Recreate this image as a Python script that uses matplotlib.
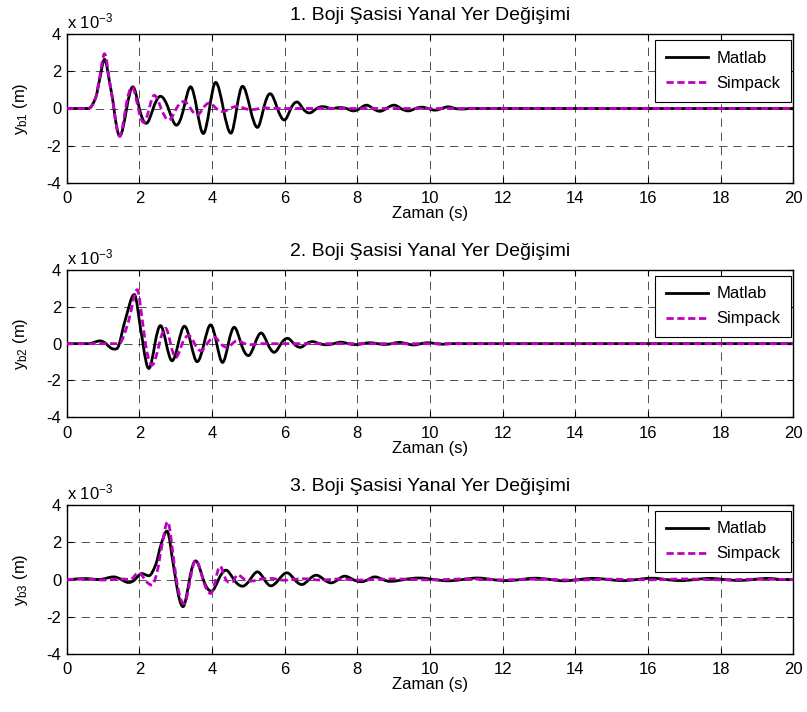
import numpy as np
import matplotlib
matplotlib.use('Agg')
import matplotlib.pyplot as plt
from matplotlib.path import Path
from matplotlib.patches import PathPatch
from matplotlib.lines import Line2D

plt.rcParams['font.family'] = ['Liberation Sans', 'DejaVu Sans']
plt.rcParams['mathtext.fontset'] = 'custom'
plt.rcParams['mathtext.rm'] = 'Liberation Sans'
plt.rcParams['mathtext.it'] = 'Liberation Sans'

# values: peaks, troughs and zero crossings
# (time in s, displacement in 1e-3 m)
t1_matlab = [0, 0.6, 0.8, 0.9, 1.04, 1.2, 1.3, 1.46, 1.65, 1.82, 2.0, 2.19, 2.38, 2.58, 2.8,
             3.02, 3.22, 3.41, 3.58, 3.76, 3.93, 4.10, 4.31, 4.52, 4.68, 4.84, 5.05, 5.25,
             5.42, 5.60, 5.8, 5.99, 6.17, 6.34, 6.5, 6.68, 6.88, 7.05, 7.3, 7.5, 7.7, 7.89,
             8.07, 8.25, 8.43, 8.62, 8.8, 9.01, 9.2, 9.40, 9.6, 9.77, 9.95, 10.14, 10.32,
             10.5, 10.7, 10.9, 11.1, 20]
y1_matlab = [0, 0, 0.6, 1.5, 2.65, 1.2, 0, -1.48, 0, 1.17, 0, -0.8, 0, 0.66, 0,
             -0.9, 0, 1.17, 0, -1.35, 0, 1.41, 0, -1.33, 0, 1.2, 0, -1.02,
             0, 0.8, 0, -0.62, 0, 0.35, 0, -0.24, 0, 0.1, 0.0, 0.05, 0, -0.13,
             0, 0.18, 0, -0.15, 0, 0.18, 0, -0.13, 0, 0.07, 0, -0.09, 0,
             0.09, 0, -0.03, 0, 0]

t1_simpack = [0, 0.6, 0.8, 0.9, 1.04, 1.2, 1.3, 1.46, 1.62, 1.80, 1.97, 2.12, 2.27, 2.41,
              2.6, 2.81, 3.02, 3.23, 3.41, 3.59, 3.75, 3.92, 4.12, 4.30, 4.50, 4.70, 4.9,
              5.1, 5.3, 5.5, 5.8, 20]
y1_simpack = [0, 0, 0.6, 1.6, 2.95, 1.2, 0, -1.5, 0, 1.15, 0, -0.75, 0, 0.71,
              0, -0.62, 0, 0.38, 0, -0.35, 0, 0.29, 0, -0.16, 0, 0.12, 0,
              -0.06, 0, 0.03, 0, 0]

t2_matlab = [0, 0.6, 0.92, 1.08, 1.29, 1.45, 1.6, 1.86, 2.05, 2.1, 2.26, 2.43, 2.58, 2.74,
             2.9, 3.07, 3.24, 3.42, 3.59, 3.78, 3.96, 4.13, 4.29, 4.45, 4.61, 4.8, 5.0,
             5.18, 5.35, 5.53, 5.71, 5.9, 6.08, 6.25, 6.43, 6.6, 6.77, 6.95, 7.15, 7.35,
             7.55, 7.75, 7.95, 8.15, 8.35, 8.55, 8.75, 8.95, 9.15, 9.35, 9.55, 9.75, 9.95,
             10.15, 10.35, 10.6, 20]
y2_matlab = [0, 0, 0.15, 0, -0.29, 0, 1.2, 2.67, 0.6, 0, -1.35, 0, 0.98, 0,
             -0.93, 0, 0.95, 0, -0.98, 0, 1.02, 0, -1.02, 0, 0.89, 0, -0.65,
             0, 0.58, 0, -0.47, 0, 0.29, 0, -0.2, 0, 0.11, 0, -0.06, 0,
             0.08, 0, -0.05, 0, 0.05, 0, -0.04, 0, 0.07, 0, -0.07, 0, 0.05,
             0, -0.03, 0, 0]

t2_simpack = [0, 1.4, 1.5, 1.7, 1.94, 2.1, 2.17, 2.35, 2.55, 2.72, 2.86, 3.0, 3.18, 3.36,
              3.52, 3.69, 3.87, 4.06, 4.24, 4.42, 4.56, 4.7, 4.9, 5.1, 5.3, 20]
y2_simpack = [0, 0, 0.1, 1.2, 2.93, 1.0, 0, -1.16, 0, 0.84, 0, -0.75, 0, 0.44,
              0, -0.38, 0, 0.35, 0, -0.2, 0, 0.16, 0, -0.05, 0, 0]

t3_matlab = [0, 0.5, 0.9, 1.29, 1.5, 1.7, 1.88, 2.07, 2.26, 2.45, 2.6, 2.76, 2.95, 3.0,
             3.2, 3.38, 3.55, 3.76, 3.98, 4.18, 4.38, 4.6, 4.84, 5.05, 5.25, 5.44, 5.62,
             5.84, 6.06, 6.27, 6.47, 6.67, 6.87, 7.08, 7.28, 7.47, 7.65, 7.88, 8.11, 8.3,
             8.48, 8.7, 8.9, 9.3, 9.7, 10.1, 10.5, 10.9, 11.3, 11.7, 12.1, 12.5, 12.9,
             13.3, 13.7, 14.1, 14.5, 14.9, 15.3, 15.7, 16.1, 16.5, 16.9, 17.3, 17.7,
             18.1, 18.5, 18.9, 19.3, 19.7, 20]
y3_matlab = [0, 0.05, 0.0, 0.14, 0, -0.16, 0, 0.32, 0.2, 0.8, 1.9, 2.6, 0.6, 0,
             -1.46, 0, 1.0, 0, -0.63, 0, 0.5, 0, -0.36, 0, 0.41, 0, -0.34,
             0, 0.36, 0, -0.27, 0, 0.23, 0, -0.18, 0, 0.18, 0, -0.12, 0,
             0.14, 0, -0.1, 0, 0.08, 0, -0.07, 0, 0.08, 0, -0.06, 0, 0.07,
             0, -0.07, 0, 0.06, 0, -0.06, 0, 0.07, 0, -0.06, 0, 0.06,
             0, -0.05, 0, 0.06, 0, 0]

t3_simpack = [0, 0.5, 1.0, 1.5, 1.75, 1.98, 2.15, 2.35, 2.5, 2.6, 2.78, 2.95, 3.02, 3.23,
              3.4, 3.55, 3.75, 3.96, 4.1, 4.22, 4.38, 4.56, 4.7, 4.9, 5.1, 5.3, 5.6, 6.0,
              6.5, 7.0, 7.5, 8.0, 9.0, 10.0, 11.0, 12.0, 13.0, 14.0, 15.0, 16.0, 17.0,
              18.0, 19.0, 20]
y3_simpack = [0, 0.03, -0.03, 0.03, 0, 0.37, 0, -0.3, 0.5, 1.6, 3.1, 1.0, 0, -1.29,
              0, 1.04, 0, -0.75, 0, 0.71, 0, -0.12, 0.25, 0, -0.08, 0, 0.06, -0.04,
              0.04, -0.03, 0.03, -0.03, 0.03, -0.02, 0.03, -0.02, 0.02, -0.03, 0.02, -0.02, 0.03,
              -0.02, 0.02, 0]

titles = ['1. Boji Şasisi Yanal Yer Değişimi',
          '2. Boji Şasisi Yanal Yer Değişimi',
          '3. Boji Şasisi Yanal Yer Değişimi']
subs = ['b1', 'b2', 'b3']
series = [(t1_matlab, y1_matlab, t1_simpack, y1_simpack),
          (t2_matlab, y2_matlab, t2_simpack, y2_simpack),
          (t3_matlab, y3_matlab, t3_simpack, y3_simpack)]


def smooth_path(t, y):
    # draw a smooth curve through the read points with cubic bezier segments
    t = np.asarray(t, float)
    y = np.asarray(y, float) * 1e-3
    n = len(t)
    m = np.zeros(n)
    for i in range(1, n - 1):
        d0 = y[i] - y[i - 1]
        d1 = y[i + 1] - y[i]
        if d0 * d1 <= 0:
            m[i] = 0.0
        else:
            m[i] = (y[i + 1] - y[i - 1]) / (t[i + 1] - t[i - 1])
            if y[i] == 0 and y[i - 1] * y[i + 1] < 0:
                m[i] *= 1.5
    verts = [(t[0], y[0])]
    codes = [Path.MOVETO]
    for i in range(n - 1):
        h = (t[i + 1] - t[i]) / 3
        verts += [(t[i] + h, y[i] + m[i] * h),
                  (t[i + 1] - h, y[i + 1] - m[i + 1] * h),
                  (t[i + 1], y[i + 1])]
        codes += [Path.CURVE4] * 3
    return Path(verts, codes)


W, H = 807, 712
fig = plt.figure(figsize=(W / 100, H / 100), dpi=100)

boxes = [(34.3, 182.7), (270.0, 417.3), (505.0, 654.0)]
left, right = 66.7, 793.3
magenta = '#c000c0'
lw = 2.0
dash = (0, (2.6, 1.3))

for (tm, ym, ts, ys), title, sub, (top, bot) in zip(series, titles, subs, boxes):
    ax = fig.add_axes([left / W, 1 - bot / H, (right - left) / W, (bot - top) / H])
    ax.add_patch(PathPatch(smooth_path(tm, ym), fill=False, edgecolor='black', lw=lw,
                           joinstyle='round', zorder=3))
    ax.add_patch(PathPatch(smooth_path(ts, ys), fill=False, edgecolor=magenta, lw=lw,
                           ls=dash, zorder=4))
    ax.set_xlim(0, 20)
    ax.set_ylim(-4e-3, 4e-3)
    ax.set_xticks(np.arange(0, 21, 2))
    ax.set_yticks([-4e-3, -2e-3, 0, 2e-3, 4e-3])
    ax.set_yticklabels(['-4', '-2', '0', '2', '4'])
    ax.tick_params(direction='in', length=4, labelsize=12, top=True, right=True)
    ax.tick_params(axis='x', pad=6)
    ax.tick_params(axis='y', pad=4)
    ax.grid(True, color='black', ls=(0, (10, 7)), lw=0.6, alpha=0.8)
    for s in ax.spines.values():
        s.set_linewidth(1.0)
    ax.set_title(title, fontsize=14, pad=10)
    ax.set_xlabel('Zaman (s)', fontsize=12, labelpad=0)
    ax.set_ylabel(r'$\mathregular{y_{%s}}$ (m)' % sub, fontsize=12, labelpad=12)
    ax.text(0, 1.02, r'x 10$^{\mathregular{-3}}$', transform=ax.transAxes,
            fontsize=12, va='bottom', ha='left')
    handles = [Line2D([], [], color='black', lw=lw),
               Line2D([], [], color=magenta, lw=lw, ls=dash)]
    leg = ax.legend(handles, ['Matlab', 'Simpack'], loc='upper right',
                    bbox_to_anchor=(0.997, 0.962), borderaxespad=0, fontsize=12,
                    fancybox=False, framealpha=1, edgecolor='black', handlelength=2.5,
                    handletextpad=0.5, borderpad=0.65, labelspacing=0.6)
    leg.get_frame().set_linewidth(0.8)

fig.savefig('out.png', dpi=100)
